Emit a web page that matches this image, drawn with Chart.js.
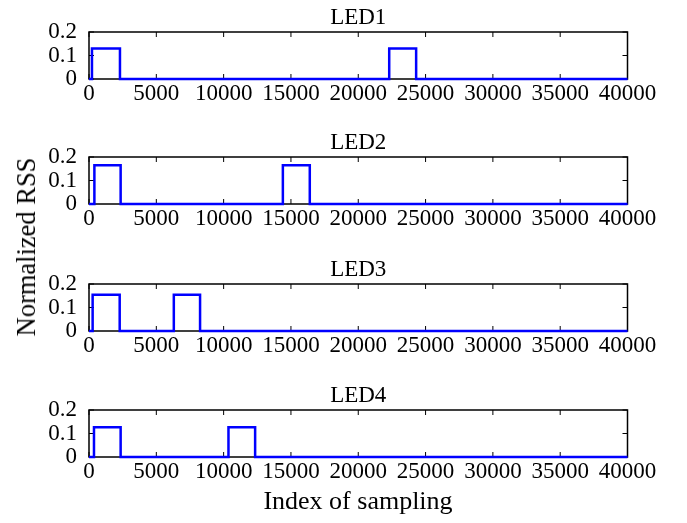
<!DOCTYPE html>
<html>
<head>
<meta charset="utf-8">
<script src="https://cdn.jsdelivr.net/npm/chart.js@4.4.0/dist/chart.umd.min.js"></script>
<style>
  html, body { margin: 0; padding: 0; background: #fff; }
  #wrap { position: relative; width: 687px; height: 523px; overflow: hidden; font-family: "Liberation Serif", "Times New Roman", serif; }
  .pane { position: absolute; left: 0; width: 687px; height: 111px; }
  .lbl { position: absolute; font-size: 26px; line-height: 30px; height: 30px; white-space: nowrap; color: #000; }
</style>
</head>
<body>
<div id="wrap">
  <div class="pane" style="top:0px"><canvas id="c1"></canvas></div>
  <div class="pane" style="top:125px"><canvas id="c2"></canvas></div>
  <div class="pane" style="top:252px"><canvas id="c3"></canvas></div>
  <div class="pane" style="top:378px"><canvas id="c4"></canvas></div>
  <div class="lbl" id="ylab" style="left:26px; top:247px; font-size:26.5px; transform: translate(-50%,-50%) rotate(-90deg);">Normalized RSS</div>
  <div class="lbl" id="xlab" style="left:358px; top:486px; transform: translateX(-50%);">Index of sampling</div>
</div>
<script>
// ---- data ----
const titles = ["LED1", "LED2", "LED3", "LED4"];
const xTickLabels = ["0","5000","10000","15000","20000","25000","30000","35000","40000"];
const yTickLabels = ["0","0.1","0.2"];

const led1X = [0, 220, 220, 2300, 2300, 22300, 22300, 24300, 24300, 40000];
const led1Y = [0, 0, 0.13, 0.13, 0, 0, 0.13, 0.13, 0, 0];

const led2X = [0, 400, 400, 2350, 2350, 14400, 14400, 16400, 16400, 40000];
const led2Y = [0, 0, 0.165, 0.165, 0, 0, 0.165, 0.165, 0, 0];

const led3X = [0, 270, 270, 2280, 2280, 6300, 6300, 8250, 8250, 40000];
const led3Y = [0, 0, 0.154, 0.154, 0, 0, 0.154, 0.154, 0, 0];

const led4X = [0, 370, 370, 2350, 2350, 10360, 10360, 12340, 12340, 40000];
const led4Y = [0, 0, 0.127, 0.127, 0, 0, 0.127, 0.127, 0, 0];

const seriesX = [led1X, led2X, led3X, led4X];
const seriesY = [led1Y, led2Y, led3Y, led4Y];

const FONT = "'Liberation Serif', 'Times New Roman', serif";

const framePlugin = {
  id: 'frame',
  beforeDatasetsDraw(chart) {
    const ctx = chart.ctx, a = chart.chartArea;
    const xs = chart.scales.x, ys = chart.scales.y;
    ctx.save();
    ctx.strokeStyle = '#000';
    ctx.lineWidth = 1.5;
    ctx.strokeRect(a.left, a.top, a.right - a.left, a.bottom - a.top);
    ctx.lineWidth = 1;
    const tl = 5;
    ctx.beginPath();
    xs.ticks.forEach(t => {
      const px = xs.getPixelForValue(t.value);
      ctx.moveTo(px, a.bottom); ctx.lineTo(px, a.bottom - tl);
      ctx.moveTo(px, a.top); ctx.lineTo(px, a.top + tl);
    });
    ys.ticks.forEach(t => {
      const py = ys.getPixelForValue(t.value);
      ctx.moveTo(a.left, py); ctx.lineTo(a.left + tl, py);
      ctx.moveTo(a.right, py); ctx.lineTo(a.right - tl, py);
    });
    ctx.stroke();
    ctx.restore();
  }
};

function makeChart(id, i) {
  const pts = seriesX[i].map((x, k) => ({ x: x, y: seriesY[i][k] }));
  return new Chart(document.getElementById(id), {
    type: 'line',
    data: { datasets: [{
      data: pts,
      borderColor: '#0000ff',
      borderWidth: 2.5,
      pointRadius: 0,
      tension: 0,
      fill: false,
      clip: false
    }]},
    options: {
      responsive: true,
      maintainAspectRatio: false,
      animation: false,
      events: [],
      layout: { padding: { top: 0.4, right: 59.5, left: 0, bottom: 0 } },
      plugins: {
        legend: { display: false },
        tooltip: { enabled: false },
        title: {
          display: true,
          fullSize: false,
          text: titles[i],
          color: '#000',
          font: { family: FONT, size: 23, weight: 'normal' },
          padding: { top: 4, bottom: 0 }
        }
      },
      scales: {
        x: {
          type: 'linear',
          min: 0, max: 40000,
          grid: { display: false, drawTicks: false },
          border: { display: false },
          ticks: {
            stepSize: 5000,
            maxRotation: 0,
            autoSkip: false,
            padding: 1,
            color: '#000',
            font: { family: FONT, size: 23 },
            callback: (v) => xTickLabels[Math.round(v / 5000)]
          },
          afterFit: (s) => { s.height = 32; }
        },
        y: {
          type: 'linear',
          min: 0, max: 0.2,
          grid: { display: false, drawTicks: false },
          border: { display: false },
          ticks: {
            stepSize: 0.1,
            autoSkip: false,
            padding: 12,
            color: '#000',
            font: { family: FONT, size: 23 },
            callback: (v) => yTickLabels[Math.round(v / 0.1)]
          },
          afterFit: (s) => { s.width = 89; }
        }
      }
    },
    plugins: [framePlugin]
  });
}

makeChart('c1', 0);
makeChart('c2', 1);
makeChart('c3', 2);
makeChart('c4', 3);
</script>
</body>
</html>
